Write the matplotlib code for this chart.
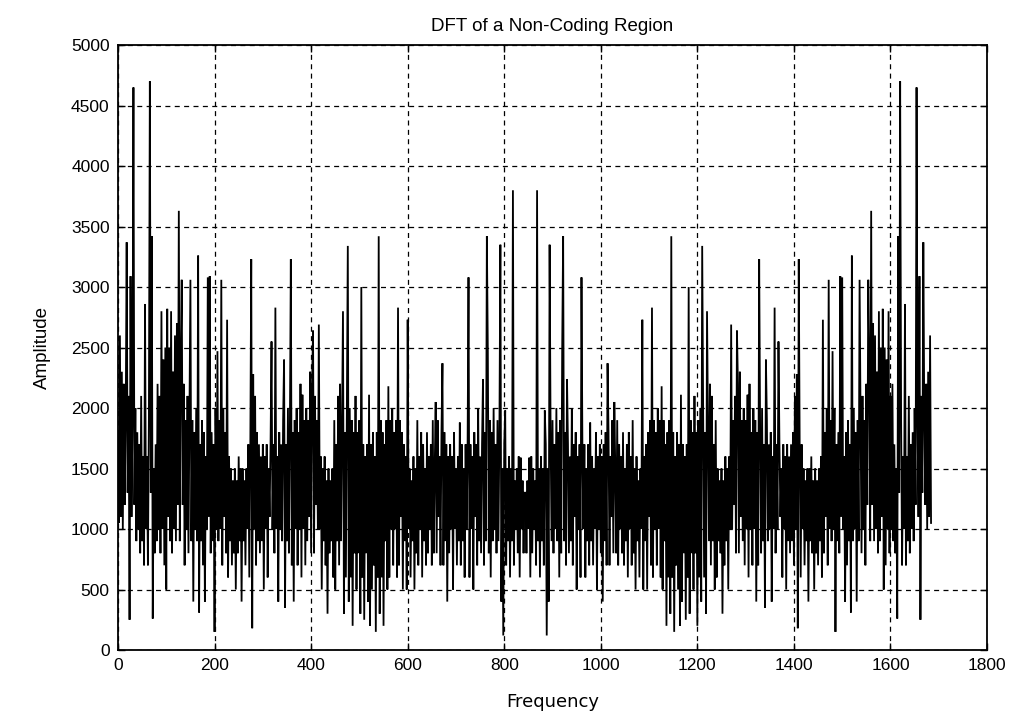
import numpy as np
import matplotlib
matplotlib.use("Agg")
import matplotlib.pyplot as plt

# DFT length and step used for the read-off half spectrum
N_POINTS = 1686
FREQ_STEP = 2

# Amplitudes for frequencies 0, 2, 4, ..., 842 (first half;
# the magnitude spectrum of a real signal is mirror-symmetric about N/2)
amp_half = [
    1800, 1050, 2600, 1100, 2300, 1000, 2200, 1200, 1900, 3370,
    1300, 2100, 250, 3090, 1100, 1900, 4650, 1200, 2000, 900,
    1800, 1000, 1700, 800, 2100, 900, 1600, 700, 2860, 1000,
    1600, 700, 1900, 4700, 1300, 3420, 260, 1500, 800, 1700,
    900, 2200, 1000, 2100, 800, 2800, 1000, 2400, 700, 2500,
    500, 2820, 1100, 2500, 900, 2800, 800, 2300, 1000, 2600,
    900, 2700, 1200, 3630, 900, 2400, 3060, 1200, 2200, 700,
    1900, 1000, 2100, 800, 1900, 3060, 900, 1900, 400, 1800,
    1000, 2000, 900, 3260, 310, 1700, 900, 1900, 700, 1800,
    400, 1600, 1000, 3080, 1100, 3090, 800, 1800, 900, 1700,
    150, 2000, 1000, 2470, 900, 1900, 1000, 3060, 700, 2000,
    1100, 1800, 800, 2730, 600, 1600, 900, 1500, 700, 1400,
    800, 1500, 500, 1400, 800, 1600, 900, 1500, 400, 1500,
    900, 1400, 700, 1500, 1000, 1700, 600, 1600, 3230, 180,
    2280, 1000, 2100, 700, 1800, 900, 1700, 800, 1600, 900,
    1700, 500, 1600, 1000, 1700, 600, 1500, 1100, 1700, 2550,
    1000, 1700, 800, 2830, 1000, 1600, 400, 1800, 1000, 1700,
    900, 1900, 2400, 350, 1700, 900, 2000, 800, 1800, 3230,
    700, 1800, 400, 1900, 1000, 2000, 700, 1800, 1000, 2200,
    600, 2110, 1000, 1900, 700, 2000, 900, 1900, 1100, 2300,
    800, 2200, 2640, 800, 2100, 1200, 1900, 1000, 2690, 1000,
    1600, 500, 1500, 900, 1600, 700, 1400, 300, 1500, 800,
    1400, 900, 1500, 600, 1900, 500, 1700, 900, 2100, 700,
    2200, 900, 1900, 2800, 300, 1800, 600, 2000, 3340, 400,
    2000, 600, 1900, 200, 1800, 800, 2100, 500, 1800, 800,
    1900, 300, 3000, 600, 1700, 250, 1600, 800, 1700, 400,
    2110, 200, 1700, 500, 1800, 700, 1600, 150, 1800, 600,
    3420, 300, 1900, 600, 1800, 200, 1700, 900, 1900, 500,
    2180, 600, 1900, 1000, 2000, 700, 1800, 1000, 1900, 600,
    2830, 700, 1900, 1100, 1800, 500, 1700, 900, 1600, 500,
    2730, 1000, 1500, 600, 1400, 900, 1600, 500, 1500, 800,
    1900, 700, 1600, 1000, 1800, 600, 1700, 900, 1500, 700,
    1800, 800, 1600, 1000, 1700, 700, 1900, 800, 1500, 2050,
    800, 1900, 1100, 1600, 700, 1800, 2370, 700, 1800, 900,
    1700, 400, 1600, 800, 1700, 1000, 1600, 500, 1800, 1000,
    1500, 700, 1600, 900, 1880, 700, 1700, 900, 1500, 600,
    1700, 1000, 1600, 3080, 600, 1700, 1000, 1600, 500, 1800,
    1100, 1700, 700, 2000, 900, 1600, 800, 1700, 2240, 700,
    1800, 900, 3420, 2470, 800, 1900, 600, 1800, 900, 2000,
    1000, 1700, 800, 1900, 900, 1800, 3350, 400, 1500, 120,
    1700, 1980, 700, 1500, 900, 1600, 600, 1500, 900, 3800,
    700, 1400, 1000, 1500, 800, 1600, 600, 1590, 1000, 1400,
    800, 1300,
]

x_ticks = [0, 200, 400, 600, 800, 1000, 1200, 1400, 1600, 1800]
y_ticks = [0, 500, 1000, 1500, 2000, 2500, 3000, 3500, 4000, 4500, 5000]

# Build the full spectrum from the half and its mirror image
freq_half = np.arange(len(amp_half)) * FREQ_STEP
amp_half_arr = np.array(amp_half, dtype=float)
freq_mirror = N_POINTS - freq_half[1:][::-1]
amp_mirror = amp_half_arr[1:][::-1]
freq = np.concatenate([freq_half, freq_mirror])
amp = np.concatenate([amp_half_arr, amp_mirror])

fig = plt.figure(figsize=(10.18, 7.27), dpi=100)
ax = fig.add_axes([0.1159, 0.1059, 0.9696 - 0.1159, 0.938 - 0.1059])

ax.plot(freq, amp, color="black", linewidth=1.3, zorder=3,
        solid_joinstyle="miter")

ax.set_xlim(0, 1800)
ax.set_ylim(0, 5000)
ax.set_xticks(x_ticks)
ax.set_yticks(y_ticks)
ax.set_xticklabels([str(t) for t in x_ticks], fontsize=12.5, family="Liberation Sans")
ax.set_yticklabels([str(t) for t in y_ticks], fontsize=12.5, family="Liberation Sans")

ax.grid(True, color="black", linestyle=(0, (4, 3.5)), linewidth=0.9)
ax.tick_params(direction="in", top=True, right=True, length=5, width=1, pad=6)
for s in ax.spines.values():
    s.set_linewidth(1.3)
    s.set_color("black")

ax.set_title("DFT of a Non-Coding Region", fontsize=13.5, pad=10, family="Liberation Sans")
ax.set_xlabel("Frequency", fontsize=13, labelpad=14, family="Liberation Sans Narrow")
ax.set_ylabel("Amplitude", fontsize=13.5, labelpad=14, family="Liberation Sans")

fig.savefig("out.png", dpi=100, facecolor="white")
